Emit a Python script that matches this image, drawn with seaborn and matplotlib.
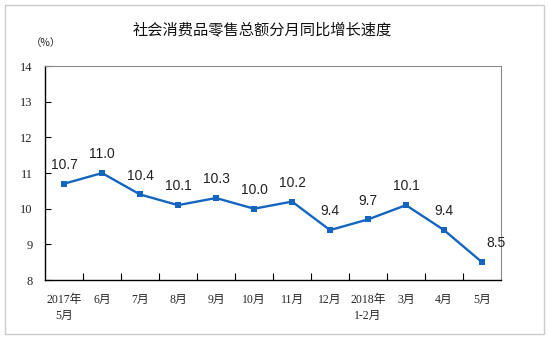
import matplotlib
matplotlib.use("Agg")
import matplotlib.pyplot as plt
import seaborn as sns
import pandas as pd

months = ["2017年\n5月", "6月", "7月", "8月", "9月", "10月", "11月", "12月",
          "2018年\n1-2月", "3月", "4月", "5月"]
growth = [10.7, 11.0, 10.4, 10.1, 10.3, 10.0, 10.2, 9.4, 9.7, 10.1, 9.4, 8.5]
y_ticks = [8, 9, 10, 11, 12, 13, 14]

sns.set_theme(style="white")
plt.rcParams["font.family"] = ["Noto Sans CJK SC", "DejaVu Sans"]

df = pd.DataFrame({"month": months, "growth": growth, "pos": range(len(months))})

fig = plt.figure(figsize=(5.49, 3.39), dpi=100)
ax = fig.add_axes([0.082, 0.174, 0.8306, 0.631])

line_color = "#1565C0"
sns.lineplot(data=df, x="pos", y="growth", ax=ax, color=line_color, linewidth=1.7,
             marker="s", markersize=5, markeredgewidth=0, markerfacecolor=line_color)

for i, v in enumerate(growth):
    if i == len(growth) - 1:
        ax.annotate(f"{v:.1f}", (i, v), xytext=(10, 14), textcoords="offset points",
                    ha="center", va="center", fontsize=10, family="Liberation Sans",
                    color="#222222")
    else:
        ax.annotate(f"{v:.1f}", (i, v), xytext=(0, 13.5), textcoords="offset points",
                    ha="center", va="center", fontsize=10, family="Liberation Sans",
                    color="#222222")

ax.set_xlim(-0.5, len(months) - 0.5)
ax.set_ylim(8, 14)
ax.set_yticks(y_ticks)
ax.set_yticklabels([str(t) for t in y_ticks], family="Liberation Serif", fontsize=9)

# category boundaries carry the x tick marks, labels sit at the category centres
ax.set_xticks([i + 0.5 for i in range(len(months) - 1)])
ax.set_xticklabels([])
ax.set_xticks(range(len(months)), minor=True)
ax.set_xticklabels(months, minor=True, fontsize=8.5,
                   family=["Liberation Serif", "Noto Sans CJK SC"], va="top",
                   linespacing=1.5)
ax.tick_params(axis="x", which="minor", length=0, pad=10)
ax.tick_params(axis="x", which="major", direction="in", length=5, width=0.8,
               color="black", bottom=True)
ax.tick_params(axis="y", direction="in", length=4, width=0.8, color="black",
               left=True, pad=9)

ax.set_xlabel("")
ax.set_ylabel("")

for side in ["left", "bottom"]:
    ax.spines[side].set_color("black")
    ax.spines[side].set_linewidth(1.0)
for side in ["top", "right"]:
    ax.spines[side].set_color("#8c8c8c")
    ax.spines[side].set_linewidth(0.8)

fig.text(0.478, 0.911, "社会消费品零售总额分月同比增长速度", ha="center", va="center",
         fontsize=11, color="#111111")
fig.text(0.084, 0.874, "（%）", ha="center", va="center", fontsize=7.5,
         family=["Noto Sans CJK SC", "DejaVu Sans"], color="#222222")

# light frame around the whole figure
frame = plt.Rectangle((0.009, 0.015), 0.982, 0.97, transform=fig.transFigure,
                      fill=False, edgecolor="#cccccc", linewidth=1.0)
fig.patches.append(frame)

fig.savefig("out.png", dpi=100)
